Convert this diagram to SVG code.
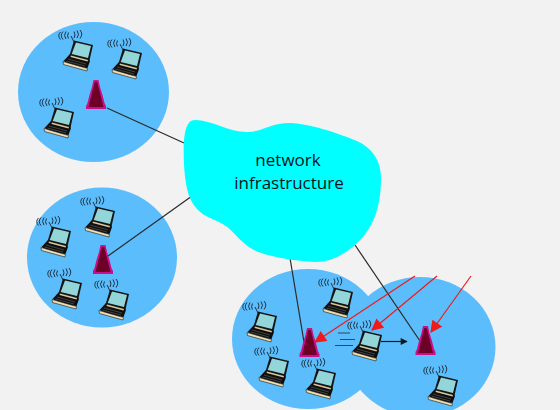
<svg xmlns="http://www.w3.org/2000/svg" xmlns:xlink="http://www.w3.org/1999/xlink" width="560" height="410" viewBox="0 0 560 410">
<style>
.cell{fill:#5bbdfb}
.wire{stroke:#2a2a2a;stroke-width:1.2;fill:none}
.red{stroke:#f01a1a;stroke-width:1.2;fill:none;marker-end:url(#redhead)}
.label{font-family:"Open Sans","Noto Sans",sans-serif;font-size:17px;fill:#06141c;text-anchor:middle}
</style>
<defs>
<marker id="redhead" viewBox="0 0 10 10" refX="9" refY="5" markerWidth="13" markerHeight="12" markerUnits="userSpaceOnUse" orient="auto"><path d="M0 0L10 5L0 10z" fill="#f01a1a"/></marker>
<marker id="blackhead" viewBox="0 0 10 10" refX="9" refY="5" markerWidth="8" markerHeight="7" markerUnits="userSpaceOnUse" orient="auto"><path d="M0 0L10 5L0 10z" fill="#10181c"/></marker>
<g id="laptop">
<g fill="none" stroke="#1d3344" stroke-width="1">
<path d="M-7 -14L-4 -8"/>
<path d="M-9.500 -17.500Q-11.500 -14 -9.500 -11.500"/>
<path d="M-12 -18.500Q-15 -14.500 -12 -11"/>
<path d="M-15 -18.500Q-18.500 -14.500 -15 -10.500"/>
<path d="M-17.500 -18Q-21 -14.500 -17.500 -10.500"/>
<path d="M-4 -18.500Q-2 -15 -4 -12"/>
<path d="M-1 -19.500Q2 -15.500 -1 -12"/>
<path d="M2 -20Q5.500 -16 2 -11.500"/>
</g>
<path d="M-14.500 11L-8 4L11 9L12 11L9.500 18L-2 17z" fill="#0e0e0e"/>
<path d="M-15 11.500L9.500 18.500L9 21L-14.500 14.500z" fill="#f2deb0" stroke="#1a1a1a" stroke-width="0.6"/>
<path d="M-4 -9.500L15 -5L11.500 10.500L-8.500 5.500z" fill="#141414"/>
<path d="M-2 -7.500L13 -4L10 8L-6.300 4z" fill="#93d6da"/>
<path d="M-7 5.500L10 10L9.500 11.500L-7.500 7z" fill="#d8c596"/>
<path d="M-10 9L8 14M-11.500 11L7 16" stroke="#5a5a5a" stroke-width="0.7"/>
</g>
<g id="tower">
<path d="M-2.500 0H2.500L4 7L6.500 15L8.500 23L10 26V29H-10V26L-8.500 23L-6.500 15L-4 7z" fill="#cc0e8e"/>
<path d="M-1.200 2H1.200L7.500 27H-7.500z" fill="#6c0026"/>
</g>
</defs>
<rect width="560" height="410" fill="#f2f2f2"/>
<g id="cells">
<ellipse class="cell" cx="93.500" cy="92" rx="75.500" ry="70"/>
<ellipse class="cell" cx="102" cy="257.500" rx="75" ry="70"/>
<ellipse class="cell" cx="420" cy="347" rx="75.500" ry="70"/>
<ellipse class="cell" cx="308" cy="339" rx="76" ry="70"/>
</g>
<g id="connectors">
<path class="wire" d="M107 108L184 143"/>
<path class="wire" d="M108 256L192 196"/>
<path class="wire" d="M290 258L304 342"/>
<path class="wire" d="M355 245L420 341"/>
<path class="red" d="M415 276L315 342"/>
<path class="red" d="M437 276L372 330"/>
<path class="red" d="M471 276L431 332"/>
<path d="M381 341.500H407" stroke="#10181c" stroke-width="1.2" fill="none" marker-end="url(#blackhead)"/>
<path d="M338 333H350M340 339.500H355M335 345.500H353" stroke="#2d4a5c" stroke-width="1.1" fill="none"/>
</g>
<g id="cloud">
<path d="M195 120C212 120 228 132 247 132C262 132 270 123 290 123C312 124 340 134 357 141C372 148 381 160 381 178C381 200 377 226 355 245C342 256 330 262 315 262C295 261 268 257 254 250C242 244 235 233 226 226C216 219 205 218 197 209C187 199 185 180 184 165C183 140 184 120 195 120Z" fill="#00ffff"/>
<text class="label" x="288" y="166">network</text>
<text class="label" x="289" y="189">infrastructure</text>
</g>
<g id="tower-1"><use xlink:href="#tower" href="#tower" x="96" y="80"/></g>
<g id="tower-2"><use xlink:href="#tower" href="#tower" x="103" y="245"/></g>
<g id="tower-3"><use xlink:href="#tower" href="#tower" x="309.500" y="328"/></g>
<g id="tower-4"><use xlink:href="#tower" href="#tower" x="425.500" y="326"/></g>
<g id="laptop-1"><use href="#laptop" x="78" y="50"/></g>
<g id="laptop-2"><use href="#laptop" x="127" y="58"/></g>
<g id="laptop-3"><use href="#laptop" x="59" y="117"/></g>
<g id="laptop-4"><use href="#laptop" x="100" y="216"/></g>
<g id="laptop-5"><use href="#laptop" x="56" y="236"/></g>
<g id="laptop-6"><use href="#laptop" x="67" y="288"/></g>
<g id="laptop-7"><use href="#laptop" x="114" y="299"/></g>
<g id="laptop-8"><use href="#laptop" x="262" y="321"/></g>
<g id="laptop-9"><use href="#laptop" x="274" y="366"/></g>
<g id="laptop-10"><use href="#laptop" x="338" y="297"/></g>
<g id="laptop-11"><use href="#laptop" x="321" y="378"/></g>
<g id="laptop-12"><use href="#laptop" x="367" y="340"/></g>
<g id="laptop-13"><use href="#laptop" x="443" y="385"/></g>
</svg>
